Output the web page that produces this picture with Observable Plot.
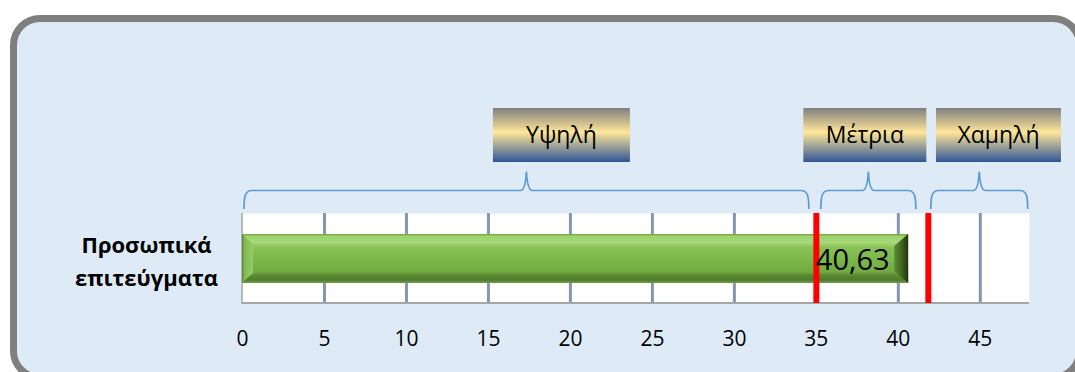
<!DOCTYPE html>
<html><head><meta charset="utf-8">
<script src="https://cdn.jsdelivr.net/npm/d3@7"></script>
<script src="https://cdn.jsdelivr.net/npm/@observablehq/plot@0.6"></script>
<style>
html,body{margin:0;padding:0;background:#fff;}
#wrap{position:relative;width:1075px;height:372px;overflow:hidden;}
#panel{position:absolute;left:9.5px;top:15px;width:1073.5px;height:366px;box-sizing:border-box;border:7px solid #7f7f7f;border-radius:30px;background:#deebf7;}
#chart{position:absolute;left:0;top:0;}
</style></head>
<body><div id="wrap"><div id="panel"></div><div id="chart"></div></div>
<script>
// ---- data ----
const categories = ["Προσωπικά επιτεύγματα"];
const values = [40.63];
const thresholds = [35, 41.83];
const levelLabels = ["Υψηλή", "Μέτρια", "Χαμηλή"];
const levelFrom = [0, 35, 41.83];
const levelTo = [35, 41.83, 48];
const tickValues = [0, 5, 10, 15, 20, 25, 30, 35, 40, 45];
const gridValues = [5, 10, 15, 20, 25, 30, 35, 40, 45];
const xDomain = [0, 48];

const rows = categories.map((c, i) => ({category: c, value: values[i]}));
const fmt = v => v.toFixed(2).replace(".", ",");

// ---- layout (pixels) ----
const braceInset = [[2, 7], [5, 12], [3, 1.3]];
const boxLayout = [{dx: -33.5, w: 137}, {dx: -65, w: 123}, {dx: -43.3, w: 125}];
const braceY = {bottom: 209, mid: 190.5, tip: 171.5};
const boxY = {top: 108, h: 54, text: 142.5};

function defsMark() {
  const g = d3.create("svg:g");
  const defs = g.append("defs");
  const bar = defs.append("linearGradient").attr("id", "barGrad")
    .attr("x1", 0).attr("y1", 0).attr("x2", 0).attr("y2", 1);
  [[0, "#6ea443"], [0.05, "#9fd36d"], [0.17, "#a8d879"], [0.27, "#89c356"],
   [0.55, "#7ab648"], [0.77, "#72ab42"], [0.85, "#5a8831"], [0.94, "#507c2c"], [1, "#70a04a"]]
    .forEach(([o, c]) => bar.append("stop").attr("offset", o).attr("stop-color", c));
  const left = defs.append("linearGradient").attr("id", "leftGrad")
    .attr("x1", 0).attr("y1", 0).attr("x2", 1).attr("y2", 0);
  [[0, "#4f7f2c"], [0.2, "#80b852"], [1, "#96cc65"]]
    .forEach(([o, c]) => left.append("stop").attr("offset", o).attr("stop-color", c));
  const right = defs.append("linearGradient").attr("id", "rightGrad")
    .attr("x1", 0).attr("y1", 0).attr("x2", 1).attr("y2", 0);
  [[0, "#5e8f35"], [0.6, "#3b5e21"], [1, "#1e3210"]]
    .forEach(([o, c]) => right.append("stop").attr("offset", o).attr("stop-color", c));
  const box = defs.append("linearGradient").attr("id", "boxGrad")
    .attr("x1", 0).attr("y1", 0).attr("x2", 0).attr("y2", 1);
  [[0, "#7f7f7f"], [0.45, "#ffe699"], [1, "#2f5597"]]
    .forEach(([o, c]) => box.append("stop").attr("offset", o).attr("stop-color", c));
  return g.node();
}

function axisLinesMark(index, scales, values, dims) {
  const {x} = scales;
  const g = d3.create("svg:g").attr("stroke", "#a6a6a6").attr("fill", "none");
  const top = dims.marginTop, bottom = dims.height - dims.marginBottom;
  g.append("line").attr("x1", x(xDomain[0])).attr("x2", x(xDomain[0]))
    .attr("y1", top).attr("y2", bottom).attr("stroke-width", 1.5);
  g.append("line").attr("x1", x(xDomain[0]) - 0.75).attr("x2", x(xDomain[1]))
    .attr("y1", bottom).attr("y2", bottom).attr("stroke-width", 2);
  return g.node();
}

function bevelMark(index, scales) {
  const {x, y} = scales;
  const g = d3.create("svg:g");
  rows.forEach(r => {
    const bw = y.bandwidth();
    const y0 = y(r.category), y1 = y0 + bw;
    const x0 = x(0), x1 = x(r.value);
    const bl = 11, blv = 10, br = 14, brv = 12;
    g.append("polygon").attr("points", `${x0},${y0} ${x0 + bl},${y0 + blv} ${x0 + bl},${y1 - blv} ${x0},${y1}`)
      .attr("fill", "url(#leftGrad)");
    g.append("polygon").attr("points", `${x1},${y0} ${x1 - br},${y0 + brv} ${x1 - br},${y1 - brv} ${x1},${y1}`)
      .attr("fill", "url(#rightGrad)");
  });
  return g.node();
}

function bracesMark(index, scales) {
  const {x} = scales;
  const g = d3.create("svg:g").attr("fill", "none").attr("stroke", "#5b9bd5").attr("stroke-width", 1.7);
  const {bottom: yb, mid: yh, tip: yt} = braceY;
  levelLabels.forEach((lab, i) => {
    const x1 = x(levelFrom[i]) + braceInset[i][0];
    const x2 = x(levelTo[i]) - braceInset[i][1];
    const xm = (x1 + x2) / 2;
    const d = `M${x1},${yb} C${x1},${yh + 6} ${x1 + 1},${yh} ${x1 + 8},${yh} L${xm - 6},${yh} ` +
      `Q${xm - 1},${yh} ${xm},${yt} Q${xm + 1},${yh} ${xm + 6},${yh} L${x2 - 8},${yh} ` +
      `C${x2 - 1},${yh} ${x2},${yh + 6} ${x2},${yb}`;
    g.append("path").attr("d", d);
  });
  return g.node();
}

function boxesMark(index, scales) {
  const {x} = scales;
  const g = d3.create("svg:g");
  levelLabels.forEach((lab, i) => {
    const x1 = x(levelFrom[i]) + braceInset[i][0];
    const x2 = x(levelTo[i]) - braceInset[i][1];
    const xm = (x1 + x2) / 2;
    const L = boxLayout[i];
    g.append("rect").attr("x", xm + L.dx).attr("y", boxY.top).attr("width", L.w).attr("height", boxY.h)
      .attr("fill", "url(#boxGrad)");
    g.append("text").attr("x", xm + L.dx + L.w / 2).attr("y", boxY.text)
      .attr("text-anchor", "middle").attr("font-family", "Open Sans").attr("font-size", 23)
      .attr("fill", "#000").text(lab);
  });
  return g.node();
}

const chart = Plot.plot({
  width: 1075,
  height: 372,
  marginLeft: 242,
  marginRight: 46,
  marginTop: 213,
  marginBottom: 69,
  style: {background: "transparent", fontFamily: "Open Sans", color: "#000"},
  x: {domain: xDomain, label: null},
  y: {domain: categories, padding: 0.295, label: null},
  marks: [
    defsMark,
    Plot.frame({fill: "white", stroke: null}),
    Plot.ruleX(gridValues, {stroke: "#8496b0", strokeWidth: 3}),
    axisLinesMark,
    Plot.barX(rows, {x: "value", y: "category", fill: "url(#barGrad)"}),
    bevelMark,
    Plot.ruleX(thresholds, {stroke: "#ff0000", strokeWidth: 6}),
    Plot.text(rows, {x: "value", y: "category", text: d => fmt(d.value), textAnchor: "end",
      dx: -19, dy: 2, fontSize: 29, fill: "#000"}),
    bracesMark,
    boxesMark,
    Plot.axisX({ticks: tickValues, tickSize: 0, tickPadding: 28, fontSize: 21, label: null}),
    Plot.axisY({tickSize: 0, tickPadding: 96, textAnchor: "middle", fontSize: 22, fontWeight: "bold",
      lineHeight: 1.5, label: null, tickFormat: d => d.replace(" ", "\n")})
  ]
});
document.getElementById("chart").appendChild(chart);
</script>
</body></html>
